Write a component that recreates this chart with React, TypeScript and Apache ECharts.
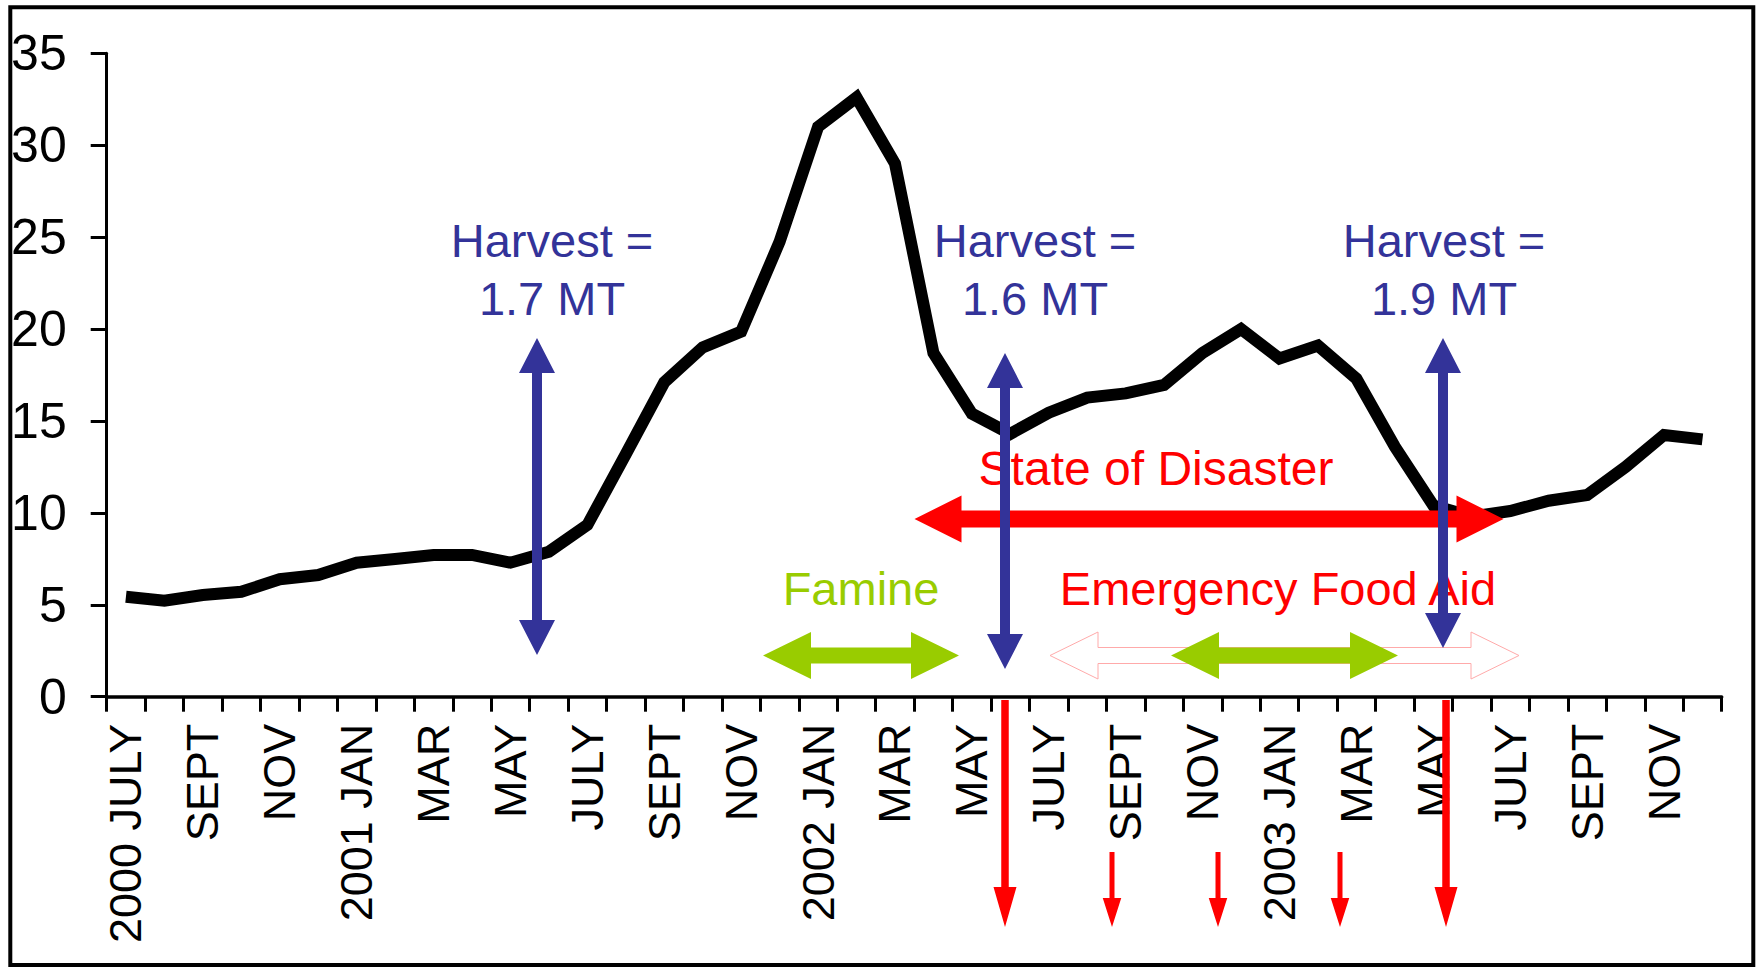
import React, { useEffect, useRef } from "react";
import * as echarts from "echarts";

const categories = [
  "2000 JULY", "AUG", "SEPT", "OCT", "NOV", "DEC",
  "2001 JAN", "FEB", "MAR", "APR", "MAY", "JUN",
  "JULY", "AUG", "SEPT", "OCT", "NOV", "DEC",
  "2002 JAN", "FEB", "MAR", "APR", "MAY", "JUN",
  "JULY", "AUG", "SEPT", "OCT", "NOV", "DEC",
  "2003 JAN", "FEB", "MAR", "APR", "MAY", "JUN",
  "JULY", "AUG", "SEPT", "OCT", "NOV", "DEC",
];

const values = [
  5.44, 5.22, 5.53, 5.71, 6.39, 6.62,
  7.29, 7.49, 7.71, 7.71, 7.29, 7.89,
  9.34, 13.2, 17.1, 19.0, 19.86, 24.75,
  31.0, 32.6, 29.0, 18.7, 15.4, 14.3,
  15.45, 16.27, 16.5, 16.96, 18.7, 20.0,
  18.4, 19.1, 17.3, 13.6, 10.4, 9.8,
  10.1, 10.66, 10.97, 12.5, 14.24, 14.0,
];

const harvestLines = ["Harvest =", "Harvest =", "Harvest ="];
const harvestAmounts = ["1.7 MT", "1.6 MT", "1.9 MT"];

const BLUE = "#333399";
const GREEN = "#99CC00";
const RED = "#FF0000";
const FONT = '"Liberation Sans", Arial, Helvetica, sans-serif';
const NARROW = '"Liberation Sans Narrow", "Arial Narrow", "Liberation Sans", Arial, sans-serif';

type Pt = [number, number];

function vDoubleArrow(x: number, ty: number, by: number, s: number, hw: number, hl: number): Pt[] {
  return [
    [x, ty], [x + hw / 2, ty + hl], [x + s / 2, ty + hl], [x + s / 2, by - hl],
    [x + hw / 2, by - hl], [x, by], [x - hw / 2, by - hl], [x - s / 2, by - hl],
    [x - s / 2, ty + hl], [x - hw / 2, ty + hl],
  ];
}

function hDoubleArrow(lx: number, rx: number, y: number, s: number, hw: number, hl: number): Pt[] {
  return [
    [lx, y], [lx + hl, y - hw / 2], [lx + hl, y - s / 2], [rx - hl, y - s / 2],
    [rx - hl, y - hw / 2], [rx, y], [rx - hl, y + hw / 2], [rx - hl, y + s / 2],
    [lx + hl, y + s / 2], [lx + hl, y + hw / 2],
  ];
}

function downArrow(x: number, y1: number, y2: number, s: number, hw: number, hl: number): Pt[] {
  return [
    [x - s / 2, y1], [x + s / 2, y1], [x + s / 2, y2 - hl], [x + hw / 2, y2 - hl],
    [x, y2], [x - hw / 2, y2 - hl], [x - s / 2, y2 - hl],
  ];
}

function poly(points: Pt[], fill: string, z: number, stroke?: string, lineWidth?: number) {
  return {
    type: "polygon",
    z,
    silent: true,
    shape: { points },
    style: { fill, stroke: stroke || null, lineWidth: lineWidth || 0 },
  };
}

function txt(text: string, x: number, y: number, color: string, z: number, size = 47) {
  return {
    type: "text",
    z,
    silent: true,
    x,
    y,
    style: {
      text,
      fill: color,
      font: `${size}px ${FONT}`,
      textAlign: "center",
      textVerticalAlign: "middle",
    },
  };
}

export default function App() {
  const ref = useRef<HTMLDivElement>(null);

  useEffect(() => {
    if (!ref.current) return;
    const chart = echarts.init(ref.current, null, { renderer: "svg" });

    const harvestX = [552, 1035, 1444];
    const blueArrows = [
      { x: 537, ty: 338, by: 655 },
      { x: 1005, ty: 353, by: 669 },
      { x: 1443, ty: 338, by: 648 },
    ];
    const redDown = [
      { x: 1005, y1: 700, big: true },
      { x: 1112, y1: 852, big: false },
      { x: 1218, y1: 852, big: false },
      { x: 1340, y1: 852, big: false },
      { x: 1446, y1: 700, big: true },
    ];

    const graphic: any[] = [
      {
        type: "rect",
        z: 20,
        silent: true,
        shape: { x: 10.3, y: 7.3, width: 1743, height: 957.7 },
        style: { fill: "none", stroke: "#000", lineWidth: 4 },
      },
      poly(hDoubleArrow(1050, 1519, 655.5, 16, 47, 48), "#fff", 10, "#FFAAAA", 1),
      poly(hDoubleArrow(763, 959, 655.5, 16, 47, 48), GREEN, 11),
      poly(hDoubleArrow(1171, 1398, 655.5, 16, 47, 48), GREEN, 11),
      poly(hDoubleArrow(914.5, 1503.5, 519, 17, 47, 47), RED, 12),
      txt("State of Disaster", 1156, 468, RED, 12, 48),
      txt("Famine", 861, 588.5, GREEN, 12),
      txt("Emergency Food Aid", 1278, 588.5, RED, 12),
    ];

    harvestX.forEach((x, i) => {
      graphic.push(txt(harvestLines[i], x, 240.5, BLUE, 12));
      graphic.push(txt(harvestAmounts[i], x, 298.5, BLUE, 12));
    });
    blueArrows.forEach((a) => {
      graphic.push(poly(vDoubleArrow(a.x, a.ty, a.by, 10, 36, 35), BLUE, 13));
    });
    redDown.forEach((a) => {
      graphic.push(
        poly(
          downArrow(a.x, a.y1, 927, a.big ? 7.5 : 5, a.big ? 23 : 18.5, a.big ? 40 : 29),
          RED,
          13
        )
      );
    });

    chart.setOption({
      animation: false,
      backgroundColor: "#fff",
      grid: { left: 106.7, top: 53.3, right: 39.3, bottom: 271.3, containLabel: false },
      xAxis: {
        type: "category",
        data: categories,
        boundaryGap: true,
        axisLine: { show: true, lineStyle: { color: "#000", width: 3.5 } },
        axisTick: { show: true, interval: 0, length: 15, lineStyle: { color: "#000", width: 3 } },
        axisLabel: {
          interval: 1,
          rotate: 90,
          margin: 27,
          color: "#000",
          fontSize: 45,
          fontFamily: FONT,
        },
        splitLine: { show: false },
      },
      yAxis: {
        type: "value",
        min: 0,
        max: 35,
        interval: 5,
        axisLine: { show: true, lineStyle: { color: "#000", width: 3 } },
        axisTick: { show: true, length: 16, lineStyle: { color: "#000", width: 3 } },
        axisLabel: { margin: 40, color: "#000", fontSize: 50, fontFamily: NARROW },
        splitLine: { show: false },
      },
      series: [
        {
          type: "line",
          data: values,
          symbol: "none",
          z: 2,
          lineStyle: { color: "#000", width: 12, join: "miter" },
        },
      ],
      graphic,
    });

    return () => chart.dispose();
  }, []);

  return (
    <div
      ref={ref}
      style={{ position: "absolute", left: 0, top: 0, width: 1761, height: 968, background: "#fff" }}
    />
  );
}
